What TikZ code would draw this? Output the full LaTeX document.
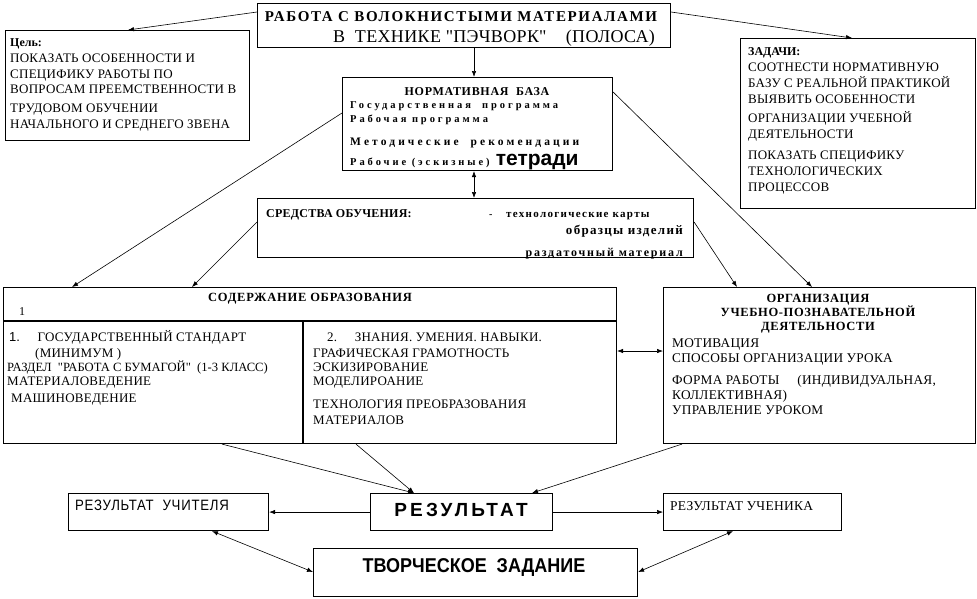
\documentclass[tikz,border=0pt]{standalone}
\usepackage{fontspec}
\setmainfont{Liberation Serif}
\newfontfamily\plainf{Liberation Serif}
\newfontfamily\sansf{Liberation Sans}
\newfontfamily\narrowf{Liberation Sans}[FakeStretch=0.88]
\newfontfamily\condf{Liberation Sans}[FakeStretch=0.9]
\usetikzlibrary{arrows.meta,calc}
\newcommand\lsp[1]{\addfontfeature{LetterSpace=#1}}
\newcommand\qq{{\plainf"}}
\begin{document}
\begin{tikzpicture}[x=1pt,y=-1pt,
  box/.style={draw,line width=1.1pt,anchor=north west,inner sep=0pt},
  txt/.style={anchor=base west,inner sep=0pt,font=\fontsize{13}{15}\selectfont\lsp{2}},
  ctxt/.style={txt,anchor=base},
  rtxt/.style={txt,anchor=base east},
  arr/.style={-{Latex[length=6pt,width=4.5pt]},line width=0.6pt},
  darr/.style={{Latex[length=6pt,width=4.5pt]}-{Latex[length=6pt,width=4.5pt]},line width=0.6pt}]
\useasboundingbox (0,0) rectangle (977,598);
% boxes
\node[box,minimum width=413pt,minimum height=44pt] (title) at (257,3) {};
\node[box,minimum width=244pt,minimum height=110pt] (goal) at (5,30) {};
\node[box,minimum width=235pt,minimum height=170pt] (tasks) at (740,38) {};
\node[box,minimum width=270pt,minimum height=93pt] (norm) at (342,77) {};
\node[box,minimum width=436pt,minimum height=59pt] (sred) at (257,198) {};
\node[box,minimum width=613pt,minimum height=156pt] (cont) at (3,287) {};
\node[box,minimum width=312pt,minimum height=156pt] (org) at (663,287) {};
\node[box,minimum width=200pt,minimum height=37pt] (rteach) at (68,493) {};
\node[box,minimum width=182pt,minimum height=37pt] (res) at (370,493) {};
\node[box,minimum width=178pt,minimum height=37pt] (rstud) at (663,493) {};
\node[box,minimum width=324pt,minimum height=48pt] (creat) at (313,548) {};
% content inner lines
\coordinate (cl) at (3,321);
\coordinate (cdiv) at (303,321);
\draw[line width=1.1pt] (cl) -- (cl -| cont.east);
\draw[line width=1.1pt] (cdiv) -- (cdiv |- cont.south);
% title
\node[ctxt,font=\fontsize{15}{17}\selectfont\bfseries\lsp{11}] (t1) at (461,21) {РАБОТА С ВОЛОКНИСТЫМИ МАТЕРИАЛАМИ};
\node[txt,font=\fontsize{18}{20}\selectfont\lsp{2}] (t2) at (333,42) {В\ \ ТЕХНИКЕ \qq ПЭЧВОРК\qq\ \ \ \ (ПОЛОСА)};
% goal
\node[txt,font=\fontsize{12}{14}\selectfont\bfseries] (g0) at (10,46) {Цель:};
\node[txt] (g1) at (10,62) {ПОКАЗАТЬ ОСОБЕННОСТИ И};
\node[txt] (g2) at (10,78) {СПЕЦИФИКУ РАБОТЫ ПО};
\node[txt] (g3) at (10,93) {ВОПРОСАМ ПРЕЕМСТВЕННОСТИ В};
\node[txt] (g4) at (10,112) {ТРУДОВОМ ОБУЧЕНИИ};
\node[txt] (g5) at (10,128) {НАЧАЛЬНОГО И СРЕДНЕГО ЗВЕНА};
% tasks
\node[txt,font=\fontsize{12}{14}\selectfont\bfseries] (z0) at (748,55) {ЗАДАЧИ:};
\node[txt] (z1) at (748,71) {СООТНЕСТИ НОРМАТИВНУЮ};
\node[txt] (z2) at (748,87) {БАЗУ С РЕАЛЬНОЙ ПРАКТИКОЙ};
\node[txt] (z3) at (748,103) {ВЫЯВИТЬ ОСОБЕННОСТИ};
\node[txt] (z4) at (748,122) {ОРГАНИЗАЦИИ УЧЕБНОЙ};
\node[txt] (z5) at (748,138) {ДЕЯТЕЛЬНОСТИ};
\node[txt] (z6) at (748,159) {ПОКАЗАТЬ СПЕЦИФИКУ};
\node[txt] (z7) at (748,175) {ТЕХНОЛОГИЧЕСКИХ};
\node[txt] (z8) at (748,191) {ПРОЦЕССОВ};
% normative
\node[ctxt,font=\fontsize{12}{14}\selectfont\bfseries\lsp{6}] (n0) at (477,95) {НОРМАТИВНАЯ\ \ БАЗА};
\node[txt,font=\fontsize{10.5}{12}\selectfont\bfseries\lsp{28}] (n1) at (350,108) {Государственная\ \ программа};
\node[txt,font=\fontsize{10.5}{12}\selectfont\bfseries\lsp{28}] (n2) at (350,122) {Рабочая программа};
\node[txt,font=\fontsize{11.5}{13}\selectfont\bfseries\lsp{27}] (n3) at (350,145) {Методические\ \ рекомендации};
\node[txt,font=\fontsize{10.5}{12}\selectfont\bfseries\lsp{28}] (n4) at (350,165) {Рабочие (эскизные)};
\node[txt,font=\fontsize{21}{23}\selectfont\sansf\bfseries] (n5) at (n4.base east) {\ тетради};
% sredstva
\node[txt,font=\fontsize{12}{14}\selectfont\bfseries\lsp{2}] (s0) at (266,217) {СРЕДСТВА ОБУЧЕНИЯ:};
\node[txt,font=\fontsize{10}{12}\selectfont\bfseries] (s1) at (489,217) {-};
\node[txt,font=\fontsize{11}{12}\selectfont\bfseries\lsp{12}] (s2) at (506,217) {технологические карты};
\node[rtxt,font=\fontsize{13}{15}\selectfont\bfseries\lsp{10}] (s3) at (683,234) {образцы изделий};
\node[rtxt,font=\fontsize{12}{13}\selectfont\bfseries\lsp{15}] (s4) at (683,256) {раздаточный материал};
% content
\node[txt,font=\fontsize{12.5}{14}\selectfont\bfseries\lsp{6}] (c0) at (208,301) {СОДЕРЖАНИЕ ОБРАЗОВАНИЯ};
\node[txt,font=\fontsize{12}{14}\selectfont] (c00) at (19,315) {1};
\node[txt] (c1) at (9,341) {{\sansf 1.}\ \ \ \ \ ГОСУДАРСТВЕННЫЙ СТАНДАРТ};
\node[txt] (c2) at (35,357) {(МИНИМУМ )};
\node[txt,font=\fontsize{12.6}{14}\selectfont] (c3) at (7,371) {РАЗДЕЛ\ \ \qq РАБОТА С БУМАГОЙ\qq\ \ (1-3 КЛАСС)};
\node[txt] (c4) at (7,385) {МАТЕРИАЛОВЕДЕНИЕ};
\node[txt] (c5) at (11,402) {МАШИНОВЕДЕНИЕ};
\node[txt] (d1) at (327,341) {2.\ \ \ \ \ ЗНАНИЯ. УМЕНИЯ. НАВЫКИ.};
\node[txt] (d2) at (313,357) {ГРАФИЧЕСКАЯ ГРАМОТНОСТЬ};
\node[txt] (d3) at (313,371) {ЭСКИЗИРОВАНИЕ};
\node[txt] (d4) at (313,385) {МОДЕЛИРОАНИЕ};
\node[txt] (d5) at (313,408) {ТЕХНОЛОГИЯ ПРЕОБРАЗОВАНИЯ};
\node[txt] (d6) at (313,424) {МАТЕРИАЛОВ};
% organization
\node[ctxt,font=\fontsize{12.5}{14}\selectfont\bfseries\lsp{5}] (o1) at (818,302) {ОРГАНИЗАЦИЯ};
\node[ctxt,font=\fontsize{12.5}{14}\selectfont\bfseries\lsp{5}] (o2) at (818,316) {УЧЕБНО-ПОЗНАВАТЕЛЬНОЙ};
\node[ctxt,font=\fontsize{12.5}{14}\selectfont\bfseries\lsp{5}] (o3) at (818,330) {ДЕЯТЕЛЬНОСТИ};
\node[txt,font=\fontsize{13.3}{15}\selectfont\lsp{2}] (o4) at (672,347) {МОТИВАЦИЯ};
\node[txt,font=\fontsize{13.3}{15}\selectfont\lsp{2}] (o5) at (672,362) {СПОСОБЫ ОРГАНИЗАЦИИ УРОКА};
\node[txt,font=\fontsize{13.3}{15}\selectfont\lsp{2}] (o6) at (672,384) {ФОРМА РАБОТЫ\ \ \ \ \ (ИНДИВИДУАЛЬНАЯ,};
\node[txt,font=\fontsize{13.3}{15}\selectfont\lsp{2}] (o7) at (672,399) {КОЛЛЕКТИВНАЯ)};
\node[txt,font=\fontsize{13.3}{15}\selectfont\lsp{2}] (o8) at (672,414) {УПРАВЛЕНИЕ УРОКОМ};
% bottom
\node[txt,font=\fontsize{15}{17}\selectfont\narrowf\lsp{5}] (b1) at (75,510) {РЕЗУЛЬТАТ\ \ УЧИТЕЛЯ};
\node[ctxt,font=\fontsize{19}{21}\selectfont\sansf\bfseries\lsp{17}] (b2) at (461,516) {РЕЗУЛЬТАТ};
\node[txt,font=\fontsize{13.5}{15}\selectfont\lsp{2}] (b3) at (670,510) {РЕЗУЛЬТАТ УЧЕНИКА};
\node[ctxt,font=\fontsize{20}{22}\selectfont\condf\bfseries] (b4) at (474,572) {ТВОРЧЕСКОЕ\ \ ЗАДАНИЕ};
% connectors
\draw[arr] ([yshift=-9pt]title.north west) -- ([xshift=123pt]goal.north west);
\draw[arr] ([yshift=-9pt]title.north east) -- ([xshift=112pt]tasks.north west);
\draw[arr] (title.south -| 474,0) -- (norm.north -| 474,0);
\draw[darr] (norm.south -| 474,0) -- (sred.north -| 474,0);
\draw[arr] ([yshift=-36pt]norm.north west) -- ([xshift=69pt]cont.north west);
\draw[arr] ([yshift=-15pt]norm.north east) -- ([xshift=149pt]org.north west);
\draw[arr] ([yshift=-24pt]sred.north west) -- ([xshift=189pt]cont.north west);
\draw[arr] ([yshift=-24pt]sred.north east) -- ([xshift=74pt]org.north west);
\draw[darr] ([yshift=-64pt]cont.north east) -- ([yshift=-64pt]org.north west);
\draw[arr] ([xshift=219pt]cont.south west) -- ([xshift=44pt]res.north west);
\draw[arr] ([xshift=353pt]cont.south west) -- ([xshift=44pt]res.north west);
\draw[arr] ([xshift=19pt]org.south west) -- ([xshift=162pt]res.north west);
\draw[arr] (res.west) -- (rteach.east);
\draw[arr] (res.east) -- (rstud.west);
\draw[darr] ([xshift=144pt]rteach.south west) -- ([yshift=-24pt]creat.north west);
\draw[darr] ([xshift=70pt]rstud.south west) -- ([yshift=-24pt]creat.north east);
\end{tikzpicture}
\end{document}
